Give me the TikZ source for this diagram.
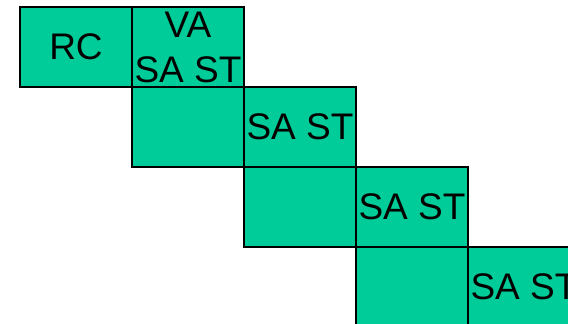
\documentclass[tikz,border=0pt]{standalone}
\usepackage{fontspec}
\setmainfont{Liberation Sans}
\definecolor{cellgreen}{RGB}{0,204,153}
\begin{document}
\begin{tikzpicture}[x=1pt,y=-1pt,
  cell/.style={draw=black,line width=1.3pt,fill=cellgreen,rectangle,
    minimum width=112pt,minimum height=80pt,inner sep=0pt,outer sep=0pt,
    align=center,font=\fontsize{37}{45}\selectfont}]
\useasboundingbox (0,0) rectangle (568,324);
\clip (0,0) rectangle (568,324);
\node[cell] (a) at (76,47) {RC};
\node[cell] (b) at (188,47) {\raisebox{0pt}[0pt][0pt]{}VA\\SA ST};
\node[cell] (c) at (188,127) {};
\node[cell] (d) at (300,127) {SA ST};
\node[cell] (e) at (300,207) {};
\node[cell] (f) at (412,207) {SA ST};
\node[cell] (g) at (412,287) {};
\node[cell] (h) at (524,287) {SA ST};
\end{tikzpicture}
\end{document}
